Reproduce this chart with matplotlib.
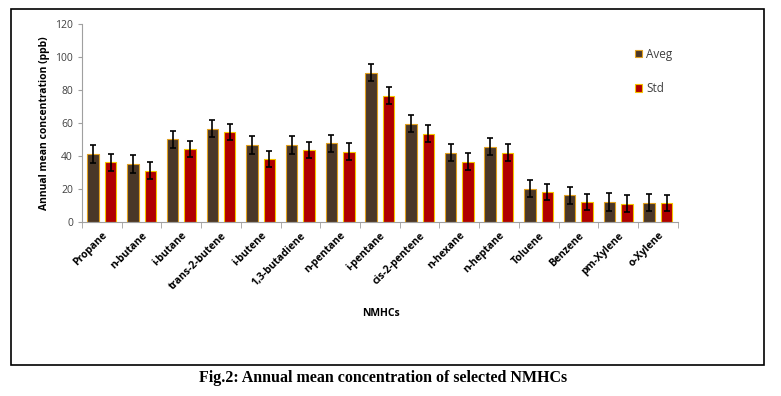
import numpy as np
import matplotlib
matplotlib.use("Agg")
import matplotlib.pyplot as plt
from matplotlib.patches import Rectangle

compounds = ["Propane", "n-butane", "i-butane", "trans-2-butene", "i-butene",
             "1,3-butadiene", "n-pentane", "i-pentane", "cis-2-pentene", "n-hexane",
             "n-heptane", "Toluene", "Benzene", "pm-Xylene", "o-Xylene"]
aveg = [41, 35, 50, 56.5, 46.5, 46.5, 47.5, 90.5, 59.5, 42, 45.5, 20, 16, 12, 11.5]
std = [36, 31, 44, 54.5, 38, 43.5, 42.5, 76.5, 53.5, 36.5, 42, 18, 12, 11, 11.5]
aveg_err = [5.3, 5.3, 5.3, 5.3, 5.3, 5.3, 5.3, 5.3, 5.3, 5.3, 5.3, 5.3, 5.3, 5.3, 5.3]
std_err = [5, 5, 5, 5, 5, 5, 5, 5, 5, 5, 5, 5, 5, 5, 5]

plt.rcParams['font.family'] = ['Open Sans', 'DejaVu Sans']

fig = plt.figure(figsize=(7.81, 3.96), dpi=100)
W, H = 781, 396

# outer frame
fig.patches.append(Rectangle((11 / W, 1 - 365 / H), (764 - 11) / W, (365 - 9) / H,
                             transform=fig.transFigure, fill=False,
                             edgecolor='black', linewidth=1.2))

ax = fig.add_axes([82 / W, 1 - 221.7 / H, (677.7 - 82) / W, (221.7 - 24) / H])

x = np.arange(len(compounds))
bw = 0.29
off = 0.22
ax.bar(x - off, aveg, bw, yerr=aveg_err, color='#4a3728', edgecolor='#e0a020',
       linewidth=0.8, capsize=2.5, error_kw=dict(ecolor='black', elinewidth=1.2, capthick=1.2),
       label='Aveg', zorder=2)
ax.bar(x + off, std, bw, yerr=std_err, color='#b00000', edgecolor='#f5c400',
       linewidth=0.8, capsize=2.5, error_kw=dict(ecolor='black', elinewidth=1.2, capthick=1.2),
       label='Std', zorder=2)

ax.set_xlim(-0.5, len(compounds) - 0.5)
ax.set_ylim(0, 120)
ax.set_yticks(range(0, 121, 20))
ax.tick_params(axis='y', labelsize=7.5, colors='#404040', length=3, color='#a0a0a0')
ax.set_xticks(x)
ax.set_xticklabels(compounds, rotation=45, ha='right', rotation_mode='anchor',
                   fontsize=7.5, fontweight='bold')
ax.tick_params(axis='x', length=0, pad=6)
ax.set_xticks(np.arange(-0.5, len(compounds)), minor=True)
ax.tick_params(axis='x', which='minor', length=4, color='#a0a0a0')
for s in ['top', 'right']:
    ax.spines[s].set_visible(False)
ax.spines['left'].set_color('#a0a0a0')
ax.spines['bottom'].set_color('#a0a0a0')

ax.set_ylabel('Annual mean concentration (ppb)', fontsize=7.5, fontweight='bold')
fig.text(381 / W, 1 - 313 / H, 'NMHCs', ha='center', va='center',
         fontsize=7.5, fontweight='bold')

ax.legend(loc='upper left', bbox_to_anchor=(624 / W, 1 - 37 / H),
          bbox_transform=fig.transFigure, frameon=False, fontsize=8.5,
          labelcolor='#404040', handlelength=0.65, handleheight=0.65,
          handletextpad=0.35, labelspacing=1.85)

fig.text(383 / W, 1 - 378 / H, 'Fig.2: Annual mean concentration of selected NMHCs',
         ha='center', va='center', fontsize=11.5, fontweight='bold',
         family='Liberation Serif')

fig.savefig('out.png', dpi=100)
